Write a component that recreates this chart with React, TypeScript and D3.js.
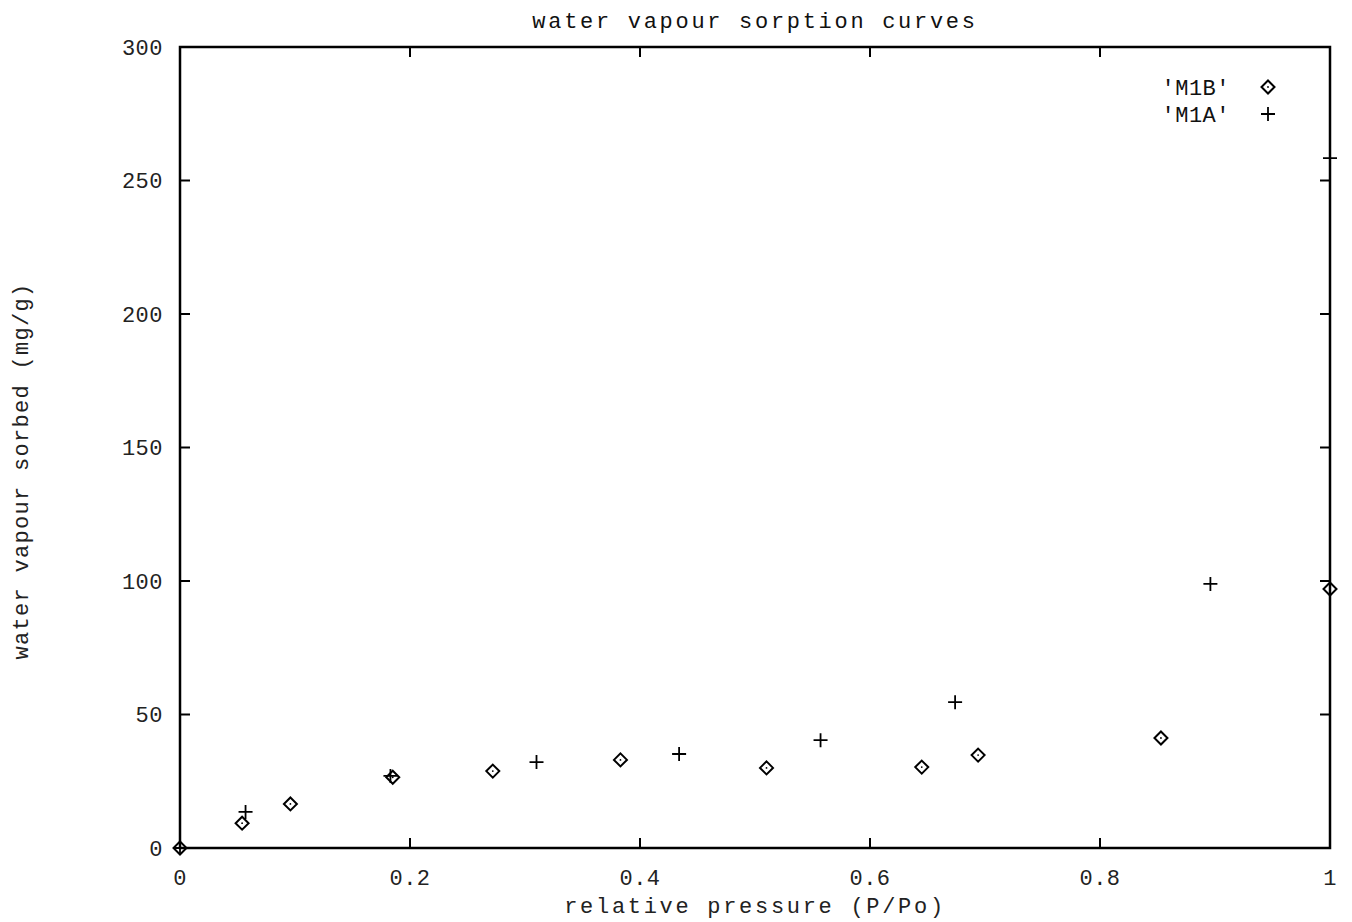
import { useEffect, useRef } from 'react'
import * as d3 from 'd3'

// M1B (diamonds)
const m1bPressure = [0, 0.054, 0.096, 0.185, 0.272, 0.383, 0.51, 0.645, 0.694, 0.853, 1.0]
const m1bSorbed = [0, 9.3, 16.5, 26.5, 28.8, 33, 30, 30.3, 34.8, 41.2, 97]

// M1A (plus)
const m1aPressure = [0, 0.057, 0.183, 0.31, 0.434, 0.557, 0.674, 0.896, 1.0]
const m1aSorbed = [0, 13.5, 27, 32.2, 35.2, 40.4, 54.6, 98.9, 258.4]

const xTicks = [0, 0.2, 0.4, 0.6, 0.8, 1]
const yTicks = [0, 50, 100, 150, 200, 250, 300]

const WIDTH = 1352
const HEIGHT = 922
const FONT = '"Liberation Mono", "DejaVu Sans Mono", monospace'

export default function App() {
  const svgRef = useRef<SVGSVGElement>(null)

  useEffect(() => {
    const margin = { top: 47, right: 22, bottom: 74, left: 180 }
    const innerW = WIDTH - margin.left - margin.right
    const innerH = HEIGHT - margin.top - margin.bottom

    const svg = d3.select(svgRef.current)
    svg.selectAll('*').remove()

    const x = d3.scaleLinear().domain([0, 1]).range([0, innerW])
    const y = d3.scaleLinear().domain([0, 300]).range([innerH, 0])

    const g = svg.append('g').attr('transform', `translate(${margin.left},${margin.top})`)

    // moldura
    g.append('rect')
      .attr('width', innerW)
      .attr('height', innerH)
      .attr('fill', 'none')
      .attr('stroke', '#000')
      .attr('stroke-width', 2.5)

    const tickLen = 10
    // ticks para dentro nos quatro lados
    xTicks.forEach(t => {
      g.append('line').attr('x1', x(t)).attr('x2', x(t)).attr('y1', innerH).attr('y2', innerH - tickLen)
        .attr('stroke', '#000').attr('stroke-width', 2)
      g.append('line').attr('x1', x(t)).attr('x2', x(t)).attr('y1', 0).attr('y2', tickLen)
        .attr('stroke', '#000').attr('stroke-width', 2)
      g.append('text')
        .attr('x', x(t))
        .attr('y', innerH + 37)
        .attr('text-anchor', 'middle')
        .attr('font-family', FONT)
        .attr('font-size', 22)
        .attr('letter-spacing', 0.5)
        .attr('fill', '#222')
        .text(t === 0 || t === 1 ? String(t) : d3.format('.1f')(t))
    })
    yTicks.forEach(t => {
      g.append('line').attr('x1', 0).attr('x2', tickLen).attr('y1', y(t)).attr('y2', y(t))
        .attr('stroke', '#000').attr('stroke-width', 2)
      g.append('line').attr('x1', innerW).attr('x2', innerW - tickLen).attr('y1', y(t)).attr('y2', y(t))
        .attr('stroke', '#000').attr('stroke-width', 2)
      g.append('text')
        .attr('x', -17)
        .attr('y', y(t))
        .attr('dy', '0.35em')
        .attr('text-anchor', 'end')
        .attr('font-family', FONT)
        .attr('font-size', 22)
        .attr('letter-spacing', 0.5)
        .attr('fill', '#222')
        .text(t)
    })

    // títulos
    svg.append('text')
      .attr('x', margin.left + innerW / 2)
      .attr('y', 28)
      .attr('text-anchor', 'middle')
      .attr('font-family', FONT)
      .attr('font-size', 22)
      .attr('letter-spacing', 2.7)
      .attr('fill', '#111')
      .text('water vapour sorption curves')

    svg.append('text')
      .attr('x', margin.left + innerW / 2)
      .attr('y', 913)
      .attr('text-anchor', 'middle')
      .attr('font-family', FONT)
      .attr('font-size', 22)
      .attr('letter-spacing', 2.7)
      .attr('fill', '#222')
      .text('relative pressure (P/Po)')

    svg.append('text')
      .attr('transform', `translate(28,471) rotate(-90)`)
      .attr('text-anchor', 'middle')
      .attr('font-family', FONT)
      .attr('font-size', 22)
      .attr('letter-spacing', 1.3)
      .attr('fill', '#222')
      .text('water vapour sorbed (mg/g)')

    const diamond = (sel: any, cx: number, cy: number) => {
      const r = 6.5
      sel.append('path')
        .attr('d', `M${cx},${cy - r}L${cx + r},${cy}L${cx},${cy + r}L${cx - r},${cy}Z`)
        .attr('fill', 'none')
        .attr('stroke', '#000')
        .attr('stroke-width', 2)
      sel.append('circle').attr('cx', cx).attr('cy', cy).attr('r', 0.9).attr('fill', '#000')
    }
    const plus = (sel: any, cx: number, cy: number) => {
      const r = 7
      sel.append('path')
        .attr('d', `M${cx - r},${cy}H${cx + r}M${cx},${cy - r}V${cy + r}`)
        .attr('stroke', '#000')
        .attr('stroke-width', 1.8)
    }

    const m1b = m1bPressure.map((p, i) => ({ p, v: m1bSorbed[i] }))
    const m1a = m1aPressure.map((p, i) => ({ p, v: m1aSorbed[i] }))

    const marks = g.append('g')
    m1b.forEach(d => diamond(marks, x(d.p), y(d.v)))
    m1a.forEach(d => plus(marks, x(d.p), y(d.v)))

    // legenda
    const legend = svg.append('g')
    const legendRows = [
      { label: "'M1B'", kind: 'diamond' },
      { label: "'M1A'", kind: 'plus' },
    ]
    legendRows.forEach((row, i) => {
      const ly = 87 + i * 27
      legend.append('text')
        .attr('x', 1230)
        .attr('y', ly)
        .attr('dy', '0.35em')
        .attr('text-anchor', 'end')
        .attr('font-family', FONT)
        .attr('font-size', 22)
        .attr('letter-spacing', 0.5)
        .attr('fill', '#111')
        .text(row.label)
      if (row.kind === 'diamond') diamond(legend, 1268, ly)
      else plus(legend, 1268, ly)
    })
  }, [])

  return (
    <div style={{ position: 'absolute', left: 0, top: 0, width: WIDTH, height: HEIGHT, background: '#fff' }}>
      <svg ref={svgRef} width={WIDTH} height={HEIGHT} style={{ display: 'block' }} />
    </div>
  )
}
